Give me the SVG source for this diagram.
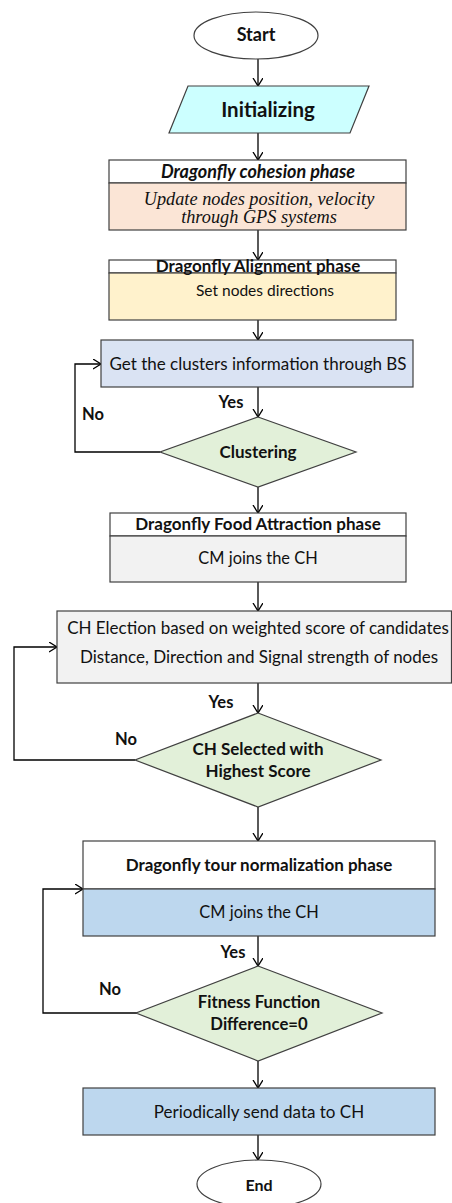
<svg xmlns="http://www.w3.org/2000/svg" width="452" height="1203" viewBox="0 0 452 1203">
<defs>
<marker id="arr" markerUnits="userSpaceOnUse" markerWidth="12" markerHeight="12" refX="8" refY="5" orient="auto">
<path d="M0,0 L8,5 L0,10" fill="none" stroke="#000" stroke-width="1.3"/>
</marker>
<style>
.box{stroke:#404040;stroke-width:1.2}
.t{font-family:Lato,"Liberation Sans",sans-serif;fill:#111;text-anchor:middle;font-size:17px}
.b{font-weight:bold}
.s{font-family:"Liberation Serif",serif;font-style:italic;fill:#111;text-anchor:middle;font-size:18.3px}
.c{fill:none;stroke:#000;stroke-width:1.3}
.l{font-size:16.5px}
</style>
</defs>
<rect width="452" height="1203" fill="#fff"/>
<g id="connectors">
<line class="c" x1="258" y1="59" x2="258" y2="86" marker-end="url(#arr)"/>
<line class="c" x1="258" y1="133" x2="258" y2="160" marker-end="url(#arr)"/>
<line class="c" x1="258" y1="230" x2="258" y2="260" marker-end="url(#arr)"/>
<line class="c" x1="258" y1="320" x2="258" y2="340" marker-end="url(#arr)"/>
<line class="c" x1="258" y1="387" x2="258" y2="417" marker-end="url(#arr)"/>
<polyline class="c" points="160,452 75,452 75,364 101,364" marker-end="url(#arr)"/>
<line class="c" x1="258" y1="487" x2="258" y2="513" marker-end="url(#arr)"/>
<line class="c" x1="258" y1="582" x2="258" y2="611" marker-end="url(#arr)"/>
<line class="c" x1="258" y1="683" x2="258" y2="713" marker-end="url(#arr)"/>
<polyline class="c" points="135,760 14,760 14,647 57,647" marker-end="url(#arr)"/>
<line class="c" x1="258" y1="807" x2="258" y2="841" marker-end="url(#arr)"/>
<line class="c" x1="258" y1="936" x2="258" y2="966" marker-end="url(#arr)"/>
<polyline class="c" points="137,1013 43,1013 43,889 83,889" marker-end="url(#arr)"/>
<line class="c" x1="258" y1="1061" x2="258" y2="1088" marker-end="url(#arr)"/>
<line class="c" x1="258" y1="1135" x2="258" y2="1160" marker-end="url(#arr)"/>
<text class="t b l" x="231" y="408">Yes</text>
<text class="t b l" x="93" y="420">No</text>
<text class="t b l" x="221" y="708">Yes</text>
<text class="t b l" x="126" y="745">No</text>
<text class="t b l" x="233" y="958">Yes</text>
<text class="t b l" x="110" y="995">No</text>
</g>
<g id="start">
<ellipse class="box" cx="256" cy="35.5" rx="62" ry="23.5" fill="#fff"/>
<text class="t b" x="256" y="41" style="font-size:18px">Start</text>
</g>
<g id="init">
<polygon class="box" points="188,86 369,86 350,133 169,133" fill="#CCFFFF"/>
<text class="t b" x="268" y="117" style="font-size:20.5px">Initializing</text>
</g>
<g id="cohesion">
<rect class="box" x="109" y="160" width="297" height="23" fill="#fff"/>
<rect class="box" x="109" y="183" width="297" height="47" fill="#FBE5D6"/>
<text class="t b" x="258" y="178" style="font-size:18px;font-style:italic">Dragonfly cohesion phase</text>
<text class="s" x="259" y="205">Update nodes position, velocity</text>
<text class="s" x="259" y="223">through GPS systems</text>
</g>
<g id="alignment">
<rect class="box" x="109" y="260" width="287" height="13" fill="#fff"/>
<rect class="box" x="109" y="273" width="287" height="47" fill="#FFF2CC"/>
<text class="t b" x="258" y="272" style="font-size:17px">Dragonfly Alignment phase</text>
<text class="t" x="265" y="296" style="font-size:15.5px">Set nodes directions</text>
</g>
<g id="bs">
<rect class="box" x="101" y="340" width="312" height="47" fill="#DAE3F3"/>
<text class="t" x="258" y="370">Get the clusters information through BS</text>
</g>
<g id="clustering">
<polygon class="box" points="258,417 356,452 258,487 160,452" fill="#E2F0D9"/>
<text class="t b" x="258" y="458">Clustering</text>
</g>
<g id="food">
<rect class="box" x="110" y="513" width="296" height="23" fill="#fff"/>
<rect class="box" x="110" y="536" width="296" height="46" fill="#F2F2F2"/>
<text class="t b" x="258" y="530">Dragonfly Food Attraction phase</text>
<text class="t" x="258" y="564" style="font-size:16.4px">CM joins the CH</text>
</g>
<g id="election">
<rect class="box" x="57" y="611" width="394.5" height="72" fill="#F2F2F2"/>
<text class="t" x="258" y="634">CH Election based on weighted score of candidates</text>
<text class="t" x="259" y="663">Distance, Direction and Signal strength of nodes</text>
</g>
<g id="selected">
<polygon class="box" points="258,713 381,760 258,807 135,760" fill="#E2F0D9"/>
<text class="t b" x="258" y="755">CH Selected with</text>
<text class="t b" x="258" y="777">Highest Score</text>
</g>
<g id="tour">
<rect class="box" x="83" y="841" width="352" height="48" fill="#fff"/>
<rect class="box" x="83" y="889" width="352" height="47" fill="#BDD7EE"/>
<text class="t b" x="259" y="871">Dragonfly tour normalization phase</text>
<text class="t" x="259" y="918" style="font-size:16.4px">CM joins the CH</text>
</g>
<g id="fitness">
<polygon class="box" points="258,966 382,1013 258,1061 136,1013" fill="#E2F0D9"/>
<text class="t b" x="259" y="1008" style="font-size:16.7px">Fitness Function</text>
<text class="t b" x="259" y="1030" style="font-size:16.7px">Difference=0</text>
</g>
<g id="periodic">
<rect class="box" x="83" y="1088" width="352" height="47" fill="#BDD7EE"/>
<text class="t" x="259" y="1118">Periodically send data to CH</text>
</g>
<g id="end">
<ellipse class="box" cx="259" cy="1184" rx="62" ry="24" fill="#fff"/>
<text class="t b" x="259" y="1191" style="font-size:16px">End</text>
</g>
</svg>
